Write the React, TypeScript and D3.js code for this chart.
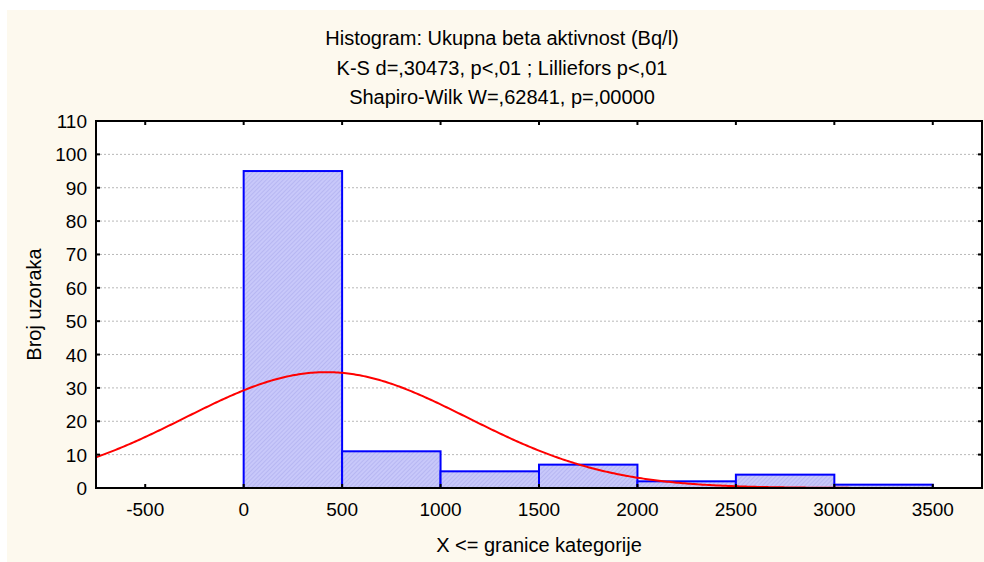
import React from "react";
import * as d3 from "d3";

const titleLines = [
  "Histogram: Ukupna beta aktivnost (Bq/l)",
  "K-S d=,30473, p<,01 ; Lilliefors p<,01",
  "Shapiro-Wilk W=,62841, p=,00000",
];
const binStarts = [-500, 0, 500, 1000, 1500, 2000, 2500, 3000];
const binCounts = [0, 95, 11, 5, 7, 2, 4, 1];
const binWidth = 500;
const xTicks = [-500, 0, 500, 1000, 1500, 2000, 2500, 3000, 3500];
const yTicks = [0, 10, 20, 30, 40, 50, 60, 70, 80, 90, 100, 110];
const fitMean = 420;
const fitSd = 718;
const fitN = 125;
const xLabel = "X <= granice kategorije";
const yLabel = "Broj uzoraka";

const W = 984;
const H = 562;
const L = 96, R = 982, T = 121, B = 488;
const FONT = "'Liberation Sans', Arial, sans-serif";

export default function App() {
  const x = d3.scaleLinear().domain([-750, 3750]).range([L, R]);
  const y = d3.scaleLinear().domain([0, 110]).range([B, T]);
  const curveXs = d3.range(-750, 3751, 10);
  const dens = (v: number) =>
    (fitN * binWidth) / (fitSd * Math.sqrt(2 * Math.PI)) *
    Math.exp(-((v - fitMean) ** 2) / (2 * fitSd * fitSd));
  const line = d3
    .line<number>()
    .x((d) => x(d))
    .y((d) => y(dens(d)))
    .curve(d3.curveLinear);

  return (
    <svg
      width={W}
      height={H}
      style={{ position: "absolute", left: 0, top: 0 }}
      fontFamily={FONT}
    >
      <defs>
        <pattern id="hatch" width="3" height="3" patternUnits="userSpaceOnUse" patternTransform="rotate(45)">
          <rect width="3" height="3" fill="#c8c8fa" />
          <line x1="0" y1="0" x2="0" y2="3" stroke="#acacee" strokeWidth="1.2" />
        </pattern>
        <clipPath id="plotClip">
          <rect x={L} y={T} width={R - L} height={B - T} />
        </clipPath>
      </defs>
      <rect x={0} y={0} width={W} height={H} fill="#ffffff" />
      <rect x={7} y={10} width={W - 7} height={H - 10} fill="#fdf9ee" />
      <rect x={L} y={T} width={R - L} height={B - T} fill="#ffffff" />

      {/* grid */}
      {yTicks.filter((t) => t > 0 && t < 110).map((t) => (
        <line key={"g" + t} x1={L} x2={R} y1={y(t)} y2={y(t)} stroke="#b8b8b8" strokeWidth={1} strokeDasharray="2,2" />
      ))}

      {/* bars */}
      {binStarts.map((s, i) => (
        <rect
          key={"b" + i}
          x={x(s)}
          y={y(binCounts[i])}
          width={x(s + binWidth) - x(s)}
          height={B - y(binCounts[i])}
          fill="url(#hatch)"
          stroke="#0000ff"
          strokeWidth={2}
        />
      ))}

      {/* normal fit */}
      <path d={line(curveXs) || ""} fill="none" stroke="#ff0000" strokeWidth={2} clipPath="url(#plotClip)" />

      {/* frame */}
      <rect x={L} y={T} width={R - L} height={B - T} fill="none" stroke="#000" strokeWidth={2} />

      {/* x ticks */}
      {xTicks.map((t) => (
        <g key={"x" + t}>
          <line x1={x(t)} x2={x(t)} y1={B} y2={B - 4} stroke="#000" strokeWidth={2} />
          <line x1={x(t)} x2={x(t)} y1={T} y2={T + 4} stroke="#000" strokeWidth={2} />
          <text x={x(t)} y={B + 28} textAnchor="middle" fontSize={19} fill="#000">
            {t}
          </text>
        </g>
      ))}
      {/* y ticks */}
      {yTicks.map((t) => (
        <g key={"y" + t}>
          <line x1={L} x2={L + 4} y1={y(t)} y2={y(t)} stroke="#000" strokeWidth={2} />
          <line x1={R} x2={R - 4} y1={y(t)} y2={y(t)} stroke="#000" strokeWidth={2} />
          <text x={L - 9} y={y(t) + 7} textAnchor="end" fontSize={19} fill="#000">
            {t}
          </text>
        </g>
      ))}

      {/* titles */}
      {titleLines.map((s, i) => (
        <text key={"t" + i} x={502} y={45 + i * 29.5} textAnchor="middle" fontSize={20} fill="#000">
          {s}
        </text>
      ))}
      <text x={(L + R) / 2} y={552} textAnchor="middle" fontSize={20} fill="#000">
        {xLabel}
      </text>
      <text
        transform={`translate(41, ${(T + B) / 2}) rotate(-90)`}
        textAnchor="middle"
        fontSize={20}
        fill="#000"
      >
        {yLabel}
      </text>
    </svg>
  );
}
